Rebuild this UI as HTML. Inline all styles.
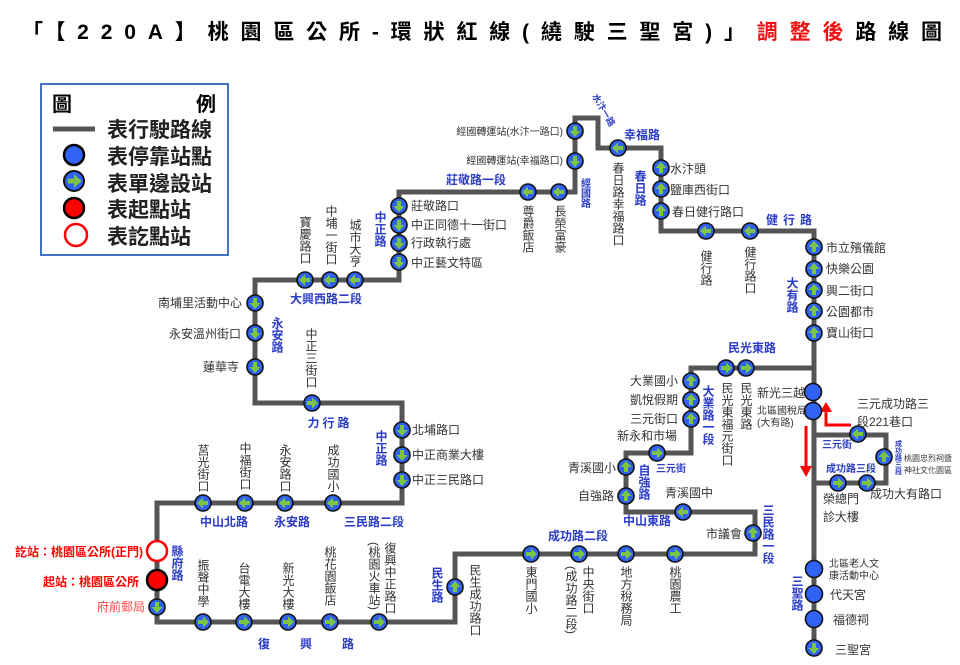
<!DOCTYPE html>
<html><head><meta charset="utf-8"><style>
html,body{margin:0;padding:0;background:#fff;}
svg{display:block;font-family:"Liberation Sans","Noto Sans CJK TC",sans-serif;}
.s{font-size:12px;fill:#333;}
.sm{font-size:10px;fill:#333;}
.r{font-size:12px;fill:#2b3cc8;font-weight:bold;}
.v{writing-mode:vertical-rl;}
</style></head><body>
<svg width="960" height="665" viewBox="0 0 960 665" xmlns="http://www.w3.org/2000/svg">
<defs>
<g id="a"><circle r="8" fill="#2f62f5" stroke="#111" stroke-width="1.6"/><polygon points="-5,-2 0,-2 0,-5.5 6,0 0,5.5 0,2 -5,2" fill="#7cc443"/></g>
<g id="b"><circle r="8.5" fill="#2f62f5" stroke="#111" stroke-width="1.6"/></g>
</defs>
<text x="22" y="39" font-size="21" font-weight="bold" textLength="920" lengthAdjust="spacing">「【220A】桃園區公所-環狀紅線(繞駛三聖宮)」<tspan fill="#ee1111">調整後</tspan>路線圖</text>

<!-- legend -->
<rect x="41" y="84" width="187" height="171" fill="#fff" stroke="#4472c4" stroke-width="2"/>
<text x="52" y="111" font-size="20" font-weight="bold">圖</text>
<text x="196" y="111" font-size="20" font-weight="bold">例</text>
<line x1="53" y1="129" x2="95" y2="129" stroke="#555" stroke-width="5"/>
<circle cx="74" cy="155" r="10" fill="#2f62f5" stroke="#000" stroke-width="2.5"/>
<g transform="translate(74,181) scale(1.25)"><use href="#a"/></g>
<circle cx="74" cy="208" r="10" fill="#f00" stroke="#000" stroke-width="2.5"/>
<circle cx="76" cy="235" r="11" fill="#fff" stroke="#f00" stroke-width="2.5"/>
<g font-size="21" font-weight="bold" fill="#222">
<text x="107" y="137">表行駛路線</text><text x="107" y="164">表停靠站點</text><text x="107" y="191">表單邊設站</text><text x="107" y="217">表起點站</text><text x="107" y="244">表訖點站</text></g>

<!-- route lines -->
<g fill="none" stroke="#555" stroke-width="5" stroke-linejoin="miter">
<polyline points="157,551 157,622 455,622 455,554 755,554 755,512 626,512 626,453 691,453 691,368 813,368"/>
<polyline points="157,551 157,503 402,503 402,403 255,403 255,280 399,280 399,192 575,192 575,118 598,118 598,148 661,148 661,231 814,231 814,655"/>
<polyline points="813,435 886,435 886,483 813,483"/>
</g>
<!-- red arrows -->
<g stroke="#f00" stroke-width="3" fill="none"><polyline points="851,425 826,425 826,410"/><line x1="806" y1="426" x2="806" y2="468"/></g>
<polygon points="820,412 832,412 826,402" fill="#f00"/><polygon points="800,466 812,466 806,477" fill="#f00"/>

<!-- stations -->
<g>
<use href="#a" transform="translate(399,206) rotate(90)"/><use href="#a" transform="translate(399,225) rotate(90)"/><use href="#a" transform="translate(399,243) rotate(90)"/><use href="#a" transform="translate(399,262) rotate(90)"/>
<use href="#a" transform="translate(305,280) rotate(180)"/><use href="#a" transform="translate(330,280) rotate(180)"/><use href="#a" transform="translate(355,280) rotate(180)"/>
<use href="#a" transform="translate(255,303) rotate(90)"/><use href="#a" transform="translate(255,333) rotate(90)"/><use href="#a" transform="translate(255,367) rotate(90)"/>
<use href="#a" transform="translate(312,403)"/>
<use href="#a" transform="translate(402,430) rotate(90)"/><use href="#a" transform="translate(402,455) rotate(90)"/><use href="#a" transform="translate(402,480) rotate(90)"/>
<use href="#a" transform="translate(203,503) rotate(180)"/><use href="#a" transform="translate(245,503) rotate(180)"/><use href="#a" transform="translate(285,503) rotate(180)"/><use href="#a" transform="translate(333,503) rotate(180)"/>
<use href="#a" transform="translate(157,607) rotate(90)"/>
<use href="#a" transform="translate(203,622)"/><use href="#a" transform="translate(244,622)"/><use href="#a" transform="translate(288,622)"/><use href="#a" transform="translate(330,622)"/><use href="#a" transform="translate(379,622)"/>
<use href="#a" transform="translate(455,587) rotate(-90)"/>
<use href="#a" transform="translate(531,554)"/><use href="#a" transform="translate(579,554)"/><use href="#a" transform="translate(626,554)"/><use href="#a" transform="translate(675,554)"/>
<use href="#a" transform="translate(753,533) rotate(-90)"/>
<use href="#a" transform="translate(683,512) rotate(180)"/>
<use href="#a" transform="translate(626,496) rotate(-90)"/><use href="#a" transform="translate(626,467) rotate(-90)"/>
<use href="#a" transform="translate(657,453)"/>
<use href="#a" transform="translate(691,419) rotate(-90)"/><use href="#a" transform="translate(691,400) rotate(-90)"/><use href="#a" transform="translate(691,381) rotate(-90)"/>
<use href="#a" transform="translate(726,368)"/><use href="#a" transform="translate(746,368)"/>
<use href="#b" transform="translate(813,392)"/><use href="#b" transform="translate(813,411)"/>
<use href="#a" transform="translate(858,434) rotate(180)"/>
<use href="#a" transform="translate(884,457) rotate(-90)"/>
<use href="#a" transform="translate(838,483)"/><use href="#a" transform="translate(867,483)"/>
<use href="#b" transform="translate(814,569)"/><use href="#b" transform="translate(814,594)"/><use href="#b" transform="translate(814,619)"/>
<use href="#a" transform="translate(814,648) rotate(90)"/>
<use href="#a" transform="translate(575,131) rotate(90)"/><use href="#a" transform="translate(575,161) rotate(90)"/>
<use href="#a" transform="translate(528,192) rotate(180)"/><use href="#a" transform="translate(559,192) rotate(180)"/>
<use href="#a" transform="translate(618,148) rotate(180)"/>
<use href="#a" transform="translate(661,168) rotate(-90)"/><use href="#a" transform="translate(661,189) rotate(-90)"/><use href="#a" transform="translate(661,211) rotate(-90)"/>
<use href="#a" transform="translate(706,231) rotate(180)"/><use href="#a" transform="translate(750,231) rotate(180)"/>
<use href="#a" transform="translate(814,247) rotate(-90)"/><use href="#a" transform="translate(814,269) rotate(-90)"/><use href="#a" transform="translate(814,290) rotate(-90)"/><use href="#a" transform="translate(814,311) rotate(-90)"/><use href="#a" transform="translate(814,333) rotate(-90)"/>
</g>
<circle cx="157" cy="551" r="10" fill="#fff" stroke="#f00" stroke-width="2.5"/>
<circle cx="157" cy="580" r="10" fill="#f00" stroke="#000" stroke-width="2.5"/>

<!-- station labels horizontal -->
<g class="s">
<text x="411" y="210">莊敬路口</text><text x="411" y="229">中正同德十一街口</text><text x="411" y="247">行政執行處</text><text x="411" y="267">中正藝文特區</text>
<text x="242" y="307" text-anchor="end">南埔里活動中心</text><text x="241" y="338" text-anchor="end">永安溫州街口</text><text x="239" y="371" text-anchor="end">蓮華寺</text>
<text x="412" y="434">北埔路口</text><text x="412" y="459">中正商業大樓</text><text x="412" y="484">中正三民路口</text>
<text x="742" y="538" text-anchor="end">市議會</text>
<text x="665" y="497">青溪國中</text>
<text x="614" y="500" text-anchor="end">自強路</text><text x="616" y="472" text-anchor="end">青溪國小</text>
<text x="617" y="440">新永和市場</text>
<text x="678" y="385" text-anchor="end">大業國小</text><text x="678" y="404" text-anchor="end">凱悅假期</text><text x="678" y="423" text-anchor="end">三元街口</text>
<text x="757" y="397">新光三越</text>
<text x="857" y="408">三元成功路三</text><text x="857" y="426">段221巷口</text>
<text x="870" y="498">成功大有路口</text>
<text x="823" y="503">榮總門</text><text x="823" y="521">診大樓</text>
<text x="830" y="599">代天宮</text><text x="833" y="624">福德祠</text><text x="835" y="654">三聖宮</text>
<text x="826" y="252">市立殯儀館</text><text x="826" y="273">快樂公園</text><text x="826" y="295">興二街口</text><text x="826" y="316">公園都市</text><text x="826" y="337">寶山街口</text>
<text x="670" y="173">水汴頭</text><text x="670" y="194">鹽庫西街口</text><text x="672" y="216">春日健行路口</text>
</g>
<g class="sm">
<text x="757" y="414">北區國稅局</text><text x="757" y="426">(大有路)</text>
<text x="829" y="567">北區老人文</text><text x="829" y="579">康活動中心</text>
<text x="563" y="135" text-anchor="end">經國轉運站(水汴一路口)</text><text x="563" y="164" text-anchor="end">經國轉運站(幸福路口)</text>
<text x="904" y="461" font-size="8">桃園忠烈祠暨</text><text x="904" y="473" font-size="8">神社文化園區</text>
</g>
<!-- vertical station labels -->
<g class="s v">
<text x="305" y="216">寶慶路口</text><text x="331" y="205">中埔一街口</text><text x="355" y="219">城市大亨</text>
<text x="311" y="328">中正三街口</text>
<text x="203" y="444">莒光街口</text><text x="245" y="442">中福街口</text><text x="285" y="444">永安路口</text><text x="333" y="444">成功國小</text>
<text x="203" y="559">振聲中學</text><text x="244" y="562">台電大樓</text><text x="288" y="562">新光大樓</text><text x="330" y="546">桃花園飯店</text><text x="390" y="542">復興中正路口</text><text x="374" y="542">(桃園火車站)</text>
<text x="475" y="564">民生成功路口</text>
<text x="531" y="566">東門國小</text><text x="588" y="566">中央街口</text><text x="571" y="566">(成功路二段)</text><text x="626" y="566">地方稅務局</text><text x="675" y="566">桃園農工</text>
<text x="727" y="382">民光東福元街口</text><text x="746" y="382">民光東路</text>
<text x="706" y="250">健行路</text><text x="750" y="246">健行路口</text>
<text x="618" y="162">春日路幸福路口</text>
<text x="528" y="205">尊爵飯店</text><text x="560" y="205">長榮富豪</text>
</g>
<!-- start/end labels -->
<text x="143" y="556" font-size="12" font-weight="bold" fill="#f00" text-anchor="end">訖站：桃園區公所(正門)</text>
<text x="139" y="586" font-size="12" font-weight="bold" fill="#f00" text-anchor="end">起站：桃園區公所</text>
<text x="145" y="611" font-size="12" fill="#f44" text-anchor="end">府前郵局</text>
<!-- road labels -->
<g class="r">
<text x="326" y="303" text-anchor="middle">大興西路二段</text>
<text x="330" y="427" text-anchor="middle" letter-spacing="3">力行路</text>
<text x="224" y="526" text-anchor="middle">中山北路</text><text x="292" y="526" text-anchor="middle">永安路</text><text x="374" y="526" text-anchor="middle">三民路二段</text>
<text x="258" y="648">復</text><text x="300" y="648">興</text><text x="342" y="648">路</text>
<text x="578" y="540" text-anchor="middle">成功路二段</text>
<text x="623" y="525">中山東路</text>
<text x="752" y="352" text-anchor="middle">民光東路</text>
<text x="766" y="224" letter-spacing="5">健行路</text>
<text x="624" y="139">幸福路</text>
<text x="446" y="184">莊敬路一段</text>
<text x="656" y="472" font-size="10">三元街</text>
<text x="822" y="448" font-size="10">三元街</text>
<text x="851" y="472" font-size="10" text-anchor="middle">成功路三段</text>
<text transform="translate(592,96) rotate(60)" font-size="9">水汴一路</text>
</g>
<g class="r v">
<text x="380" y="211">中正路</text>
<text x="277" y="317">永安路</text>
<text x="381" y="430">中正路</text>
<text x="177" y="545">縣府路</text>
<text x="437" y="567">民生路</text>
<text x="768" y="504">三民路一段</text>
<text x="644" y="464">自強路</text>
<text x="708" y="385">大業路一段</text>
<text x="797" y="575">三聖路</text>
<text x="792" y="277">大有路</text>
<text x="640" y="170">春日路</text>
<text x="584" y="178" font-size="10">經國路</text>
<text x="898" y="440" font-size="7">成功路三段</text>
</g>
</svg>
</body></html>
